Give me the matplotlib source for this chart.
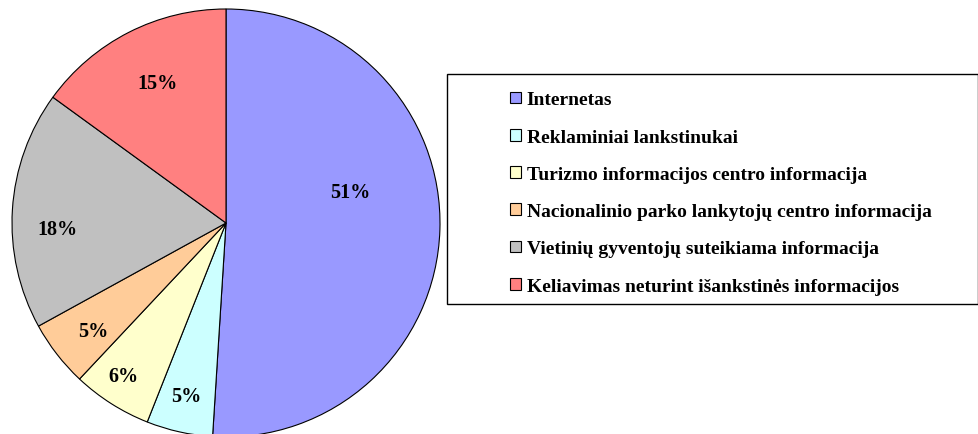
import matplotlib
matplotlib.use("Agg")
import math
import matplotlib.pyplot as plt
from matplotlib.patches import Patch, Rectangle

categories = [
    "Internetas",
    "Reklaminiai lankstinukai",
    "Turizmo informacijos centro informacija",
    "Nacionalinio parko lankytojų centro informacija",
    "Vietinių gyventojų suteikiama informacija",
    "Keliavimas neturint išankstinės informacijos",
]
values = [51, 5, 6, 5, 18, 15]
colors = ["#9999FF", "#CCFFFF", "#FFFFCC", "#FFCC99", "#C0C0C0", "#FF8080"]

# label placement (radius fraction, angle in degrees measured like matplotlib)
label_r = [0.60, 0.83, 0.86, 0.80, 0.79, 0.73]
label_ang = [14, -103, -124, -141, 182, 116]

plt.rcParams["font.family"] = ["Liberation Serif", "DejaVu Serif"]
plt.rcParams["font.weight"] = "bold"

W, H = 979, 435
fig = plt.figure(figsize=(W / 100, H / 100), dpi=100)
fig.patch.set_facecolor("white")

cx, cy, R = 226, 224, 214
ax = fig.add_axes([(cx - R) / W, (H - cy - R) / H, 2 * R / W, 2 * R / H])
wedges, texts, autotexts = ax.pie(
    values, colors=colors, startangle=90, counterclock=False,
    wedgeprops=dict(edgecolor="black", linewidth=0.8),
    autopct=lambda p: f"{p:.0f}%", pctdistance=0.8,
    textprops=dict(fontsize=14.5, fontweight="bold"),
)
for t, r, a in zip(autotexts, label_r, label_ang):
    t.set_position((r * math.cos(math.radians(a)), r * math.sin(math.radians(a))))
    t.set_ha("center"); t.set_va("center")
ax.set_xlim(-1, 1); ax.set_ylim(-1, 1)
ax.set_aspect("equal")
ax.axis("off")

# legend frame
fig.patches.append(Rectangle((447 / W, (H - 305) / H), (978 - 447) / W, (305 - 75) / H,
                             transform=fig.transFigure, fill=False,
                             edgecolor="black", linewidth=1.0))

handles = [Patch(facecolor=c, edgecolor="black", linewidth=0.8) for c in colors]
fig.legend(handles, categories, loc="center left",
           bbox_to_anchor=(510 / W, (H - 194) / H), frameon=False,
           prop=dict(family="Liberation Serif", weight="bold", size=14),
           handlelength=0.55, handleheight=0.55, handletextpad=0.3,
           labelspacing=1.04, borderpad=0, borderaxespad=0)

fig.savefig("out.png", dpi=100)
